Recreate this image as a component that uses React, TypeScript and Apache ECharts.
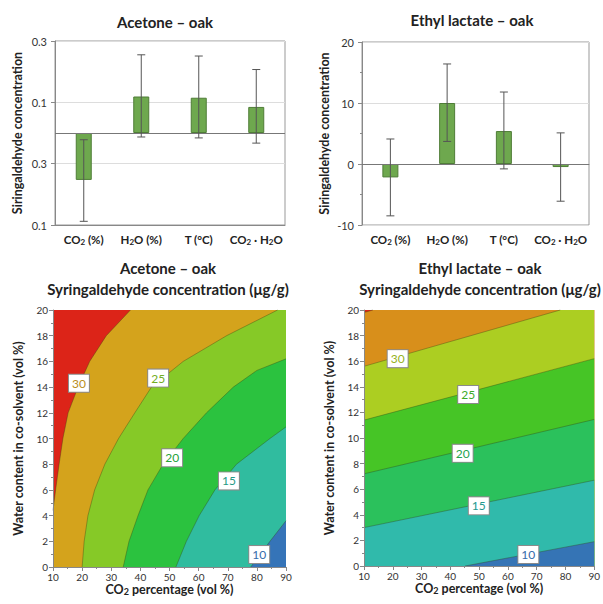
import React, { useEffect, useRef } from 'react';
import * as echarts from 'echarts';

// ---------- data ----------
const factorLabels = ['{a|CO}{s|2}{a| (%)}', '{a|H}{s|2}{a|O (%)}', '{a|T (°C)}', '{a|CO}{s|2}{a| · H}{s|2}{a|O}'];

const acetoneEffects = [-0.153, 0.119, 0.115, 0.085];
const acetoneErrLow = [-0.288, -0.013, -0.016, -0.033];
const acetoneErrHigh = [-0.022, 0.255, 0.251, 0.207];
const acetoneTickLabels = ['0.1', '0.3', '0.1', '0.3']; // bottom to top

const ethylEffects = [-2.2, 10.0, 5.4, -0.5];
const ethylErrLow = [-8.5, 3.7, -0.8, -6.1];
const ethylErrHigh = [4.1, 16.4, 11.8, 5.1];

// contour lines: [CO2 %, water %]
const acetone30 = [[36.6, 20], [28.3, 18], [22.6, 16], [18.6, 14], [15.2, 12], [13.4, 10], [12.1, 8], [10.9, 6], [10, 4.4]];
const acetone25 = [[20, 0], [20.7, 2], [22, 4], [24.3, 6], [27.8, 8], [32.5, 10], [38.1, 12], [43.8, 14], [54.7, 16], [69.6, 18], [87.1, 20]];
const acetone20 = [[34.1, 0], [36.1, 2], [39.2, 4], [42.6, 6], [47.8, 8], [54.7, 10], [62.7, 12], [71.9, 14], [80, 15.3], [90, 16.2]];
const acetone15 = [[52.2, 0], [55.8, 2], [60.2, 4], [65.6, 6], [73, 8], [84.5, 10], [90, 10.9]];
const acetone10 = [[77.9, 0], [84.5, 2], [90, 3.6]];

const ethyl35 = [[10, 19.8], [13.1, 20]];
const ethyl30 = [[10, 15.6], [78.2, 20]];
const ethyl25 = [[10, 11.4], [90, 16.2]];
const ethyl20 = [[10, 7.2], [90, 11.45]];
const ethyl15 = [[10, 3.0], [90, 6.7]];
const ethyl10 = [[45.1, 0], [90, 1.9]];

const contourLevels = ['30', '25', '20', '15', '10'];
const acetoneLabelPos = [[18.9, 14.3], [46.1, 14.7], [50.9, 8.5], [70.4, 6.7], [80.8, 0.97]];
const ethylLabelPos = [[21.7, 16.2], [46.2, 13.4], [44.3, 8.8], [49.9, 4.7], [67.1, 0.9]];

// ---------- styles ----------
const font = 'Lato, "Open Sans", sans-serif';
const acetoneColors = ['#dc2418', '#d4a31c', '#86c927', '#2bc23f', '#30bc9f', '#3574b8'];
const ethylColors = ['#dc2418', '#d88f1b', '#acce22', '#46c526', '#2bc15c', '#30baab', '#3574b5'];
const acetoneLabelColors = ['#b98d1a', '#72ad24', '#26a23a', '#259a85', '#356bab'];
const ethylLabelColors = ['#95b21c', '#3caa28', '#25a350', '#25998f', '#356bab'];

const X0 = 10, X1 = 90, Y0 = 0, Y1 = 20;

type Region = { points: number[][]; color: string };

const acetoneRegions: Region[] = [
  { points: [[X0, Y0], [X0, Y1], [X1, Y1], [X1, Y0]], color: acetoneColors[0] },
  { points: [...acetone30, [X0, Y0], [X1, Y0], [X1, Y1]], color: acetoneColors[1] },
  { points: [...acetone25, [X1, Y1], [X1, Y0]], color: acetoneColors[2] },
  { points: [...acetone20, [X1, Y0]], color: acetoneColors[3] },
  { points: [...acetone15, [X1, Y0]], color: acetoneColors[4] },
  { points: [...acetone10, [X1, Y0]], color: acetoneColors[5] },
];
const ethylRegions: Region[] = [
  { points: [[X0, Y0], [X0, Y1], [X1, Y1], [X1, Y0]], color: ethylColors[0] },
  { points: [...ethyl35, [X1, Y1], [X1, Y0], [X0, Y0]], color: ethylColors[1] },
  { points: [...ethyl30, [X1, Y1], [X1, Y0], [X0, Y0]], color: ethylColors[2] },
  { points: [...ethyl25, [X1, Y0], [X0, Y0]], color: ethylColors[3] },
  { points: [...ethyl20, [X1, Y0], [X0, Y0]], color: ethylColors[4] },
  { points: [...ethyl15, [X1, Y0], [X0, Y0]], color: ethylColors[5] },
  { points: [...ethyl10, [X1, Y0]], color: ethylColors[6] },
];
const acetoneLines = [acetone30, acetone25, acetone20, acetone15, acetone10];
const ethylLines = [ethyl35, ethyl30, ethyl25, ethyl20, ethyl15, ethyl10];

const rich = {
  a: { fontFamily: font, fontSize: 11.5, fontWeight: 'bold', color: '#222' },
  s: { fontFamily: font, fontSize: 8, fontWeight: 'bold', color: '#222', verticalAlign: 'bottom', padding: [5, 0, 0, 0] },
};
const richName = {
  a: { fontFamily: font, fontSize: 12.5, fontWeight: 'bold', color: '#222' },
  s: { fontFamily: font, fontSize: 9, fontWeight: 'bold', color: '#222', verticalAlign: 'bottom', padding: [5, 0, 0, 0] },
};
const nameStyle = { fontFamily: font, fontSize: 12.5, fontWeight: 'bold', color: '#222' };
const tickLabel = { fontFamily: font, fontSize: 11, color: '#333' };
const axisLine = { show: true, lineStyle: { color: '#888' } };

function errorRenderer(params: any, api: any) {
  const x = api.value(0);
  const lo = api.coord([x, api.value(1)]);
  const hi = api.coord([x, api.value(2)]);
  const w = 4;
  const style = { stroke: '#555', lineWidth: 1 };
  return {
    type: 'group',
    children: [
      { type: 'line', shape: { x1: lo[0], y1: lo[1], x2: hi[0], y2: hi[1] }, style },
      { type: 'line', shape: { x1: lo[0] - w, y1: lo[1], x2: lo[0] + w, y2: lo[1] }, style },
      { type: 'line', shape: { x1: hi[0] - w, y1: hi[1], x2: hi[0] + w, y2: hi[1] }, style },
    ],
  };
}

function regionRenderer(regions: Region[]) {
  return (params: any, api: any) => {
    const r = regions[params.dataIndex];
    return { type: 'polygon', silent: true, shape: { points: r.points.map((p) => api.coord(p)) }, style: { fill: r.color } };
  };
}
function lineRenderer(lines: number[][][]) {
  return (params: any, api: any) => {
    const l = lines[params.dataIndex];
    return { type: 'polyline', silent: true, shape: { points: l.map((p) => api.coord(p)) }, style: { stroke: 'rgba(50,60,20,0.45)', lineWidth: 0.8, fill: 'none' } };
  };
}

function barSeries(xi: number, yi: number, values: number[], lo: number[], hi: number[]) {
  return [
    {
      type: 'bar', xAxisIndex: xi, yAxisIndex: yi, data: values, barWidth: 16,
      itemStyle: { color: '#6ea84e', borderColor: '#4f7d37', borderWidth: 1 },
      markLine: { silent: true, symbol: 'none', label: { show: false }, lineStyle: { color: '#777', type: 'solid', width: 1 }, data: [{ yAxis: 0 }] },
    },
    {
      type: 'custom', xAxisIndex: xi, yAxisIndex: yi, z: 5, renderItem: errorRenderer,
      data: values.map((_, i) => [i, lo[i], hi[i]]),
    },
  ];
}

function contourSeries(xi: number, yi: number, regions: Region[], lines: number[][][], labelPos: number[][], labelColors: string[]) {
  return [
    { type: 'custom', xAxisIndex: xi, yAxisIndex: yi, renderItem: regionRenderer(regions), data: regions.map((r) => r.points[0]) },
    { type: 'custom', xAxisIndex: xi, yAxisIndex: yi, renderItem: lineRenderer(lines), data: lines.map((l) => l[0]) },
    {
      type: 'scatter', xAxisIndex: xi, yAxisIndex: yi, symbolSize: 1, z: 10,
      itemStyle: { color: 'rgba(0,0,0,0)', opacity: 1 },
      label: {
        show: true, position: 'inside', formatter: (p: any) => contourLevels[p.dataIndex],
        backgroundColor: '#fff', borderColor: '#8a8a8a', borderWidth: 1, padding: [3, 3, 2, 3],
        fontFamily: font, fontSize: 12, opacity: 1,
      },
      data: labelPos.map((p, i) => ({ value: p, label: { color: labelColors[i] } })),
    },
  ];
}

function contourX(gi: number) {
  return {
    type: 'value', gridIndex: gi, min: X0, max: X1, interval: 10, z: 10,
    axisLine, axisTick: { length: 4, lineStyle: { color: '#888' } },
    minorTick: { show: true, splitNumber: 2, length: 2, lineStyle: { color: '#888' } },
    splitLine: { show: false }, axisLabel: { ...tickLabel, fontSize: 10, margin: 5 },
    name: '{a|CO}{s|2}{a| percentage (vol %)}', nameLocation: 'middle', nameGap: 13,
    nameTextStyle: { rich: richName },
  };
}
function contourY(gi: number) {
  return {
    type: 'value', gridIndex: gi, min: Y0, max: Y1, interval: 2, z: 10,
    axisLine, axisTick: { show: true, length: 4, lineStyle: { color: '#888' } },
    minorTick: { show: true, splitNumber: 2, length: 2, lineStyle: { color: '#888' } },
    splitLine: { show: false }, axisLabel: { ...tickLabel, fontSize: 10, margin: 5 },
    name: 'Water content in co-solvent (vol %)', nameLocation: 'middle', nameGap: 28, nameTextStyle: nameStyle,
  };
}

const titleStyle = { fontFamily: font, fontSize: 15, fontWeight: 'bold', color: '#222', lineHeight: 21 };

export default function App() {
  const ref = useRef<HTMLDivElement>(null);
  useEffect(() => {
    if (!ref.current) return;
    const chart = echarts.init(ref.current, undefined, { renderer: 'svg' });
    chart.setOption({
      animation: false,
      backgroundColor: '#fff',
      title: [
        { text: 'Acetone – oak', left: 160, top: 6, textAlign: 'center', textStyle: titleStyle },
        { text: 'Ethyl lactate – oak', left: 467, top: 4, textAlign: 'center', textStyle: titleStyle },
        { text: 'Acetone – oak\nSyringaldehyde concentration (μg/g)', left: 163, top: 252, textAlign: 'center', textStyle: titleStyle },
        { text: 'Ethyl lactate – oak\nSyringaldehyde concentration (μg/g)', left: 475, top: 252, textAlign: 'center', textStyle: titleStyle },
      ],
      grid: [
        { left: 55, top: 41, width: 230, height: 184, show: true, borderColor: '#999', borderWidth: 1 },
        { left: 362, top: 42, width: 227, height: 183, show: true, borderColor: '#999', borderWidth: 1 },
        { left: 53, top: 310, width: 233, height: 257 },
        { left: 364, top: 310, width: 234, height: 256 },
      ],
      xAxis: [
        { type: 'category', gridIndex: 0, data: factorLabels, axisLine, axisTick: { alignWithLabel: true, length: 4, lineStyle: { color: '#888' } }, axisLabel: { rich, margin: 8, interval: 0 } },
        { type: 'category', gridIndex: 1, data: factorLabels, axisLine, axisTick: { alignWithLabel: true, length: 4, lineStyle: { color: '#888' } }, axisLabel: { rich, margin: 8, interval: 0 } },
        contourX(2),
        contourX(3),
      ],
      yAxis: [
        {
          type: 'value', gridIndex: 0, min: 0, max: 0.6, interval: 0.2, axisLine,
          axisTick: { show: true, length: 4, lineStyle: { color: '#888' } },
          splitLine: { show: true, lineStyle: { color: '#ddd' } },
          axisLabel: { ...tickLabel, formatter: (v: number) => acetoneTickLabels[Math.round(v * 5)] ?? '' },
          name: 'Siringaldehyde concentration', nameLocation: 'middle', nameGap: 31, nameTextStyle: nameStyle,
        },
        { type: 'value', gridIndex: 0, min: -0.3, max: 0.3, show: false },
        {
          type: 'value', gridIndex: 1, min: -10, max: 20, interval: 10, axisLine,
          axisTick: { show: true, length: 4, lineStyle: { color: '#888' } },
          minorTick: { show: true, splitNumber: 2, length: 2, lineStyle: { color: '#888' } },
          splitLine: { show: true, lineStyle: { color: '#ddd' } },
          axisLabel: tickLabel,
          name: 'Siringaldehyde concentration', nameLocation: 'middle', nameGap: 31, nameTextStyle: nameStyle,
        },
        contourY(2),
        contourY(3),
      ],
      series: [
        ...barSeries(0, 1, acetoneEffects, acetoneErrLow, acetoneErrHigh),
        ...barSeries(1, 2, ethylEffects, ethylErrLow, ethylErrHigh),
        ...contourSeries(2, 3, acetoneRegions, acetoneLines, acetoneLabelPos, acetoneLabelColors),
        ...contourSeries(3, 4, ethylRegions, ethylLines, ethylLabelPos, ethylLabelColors),
      ],
    });
    return () => chart.dispose();
  }, []);
  return <div ref={ref} style={{ position: 'absolute', left: 0, top: 0, width: 603, height: 604 }} />;
}
